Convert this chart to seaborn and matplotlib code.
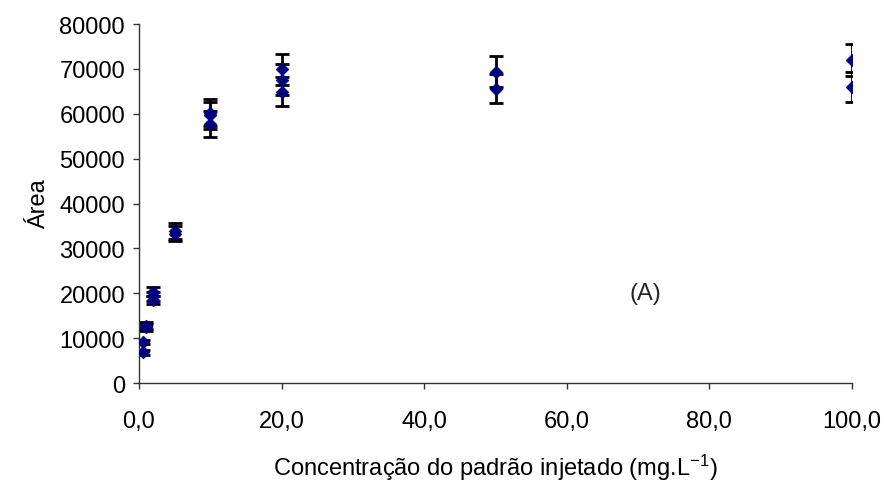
import matplotlib

matplotlib.use("Agg")

import matplotlib.pyplot as plt
import pandas as pd
import seaborn as sns
from matplotlib.ticker import FuncFormatter, MultipleLocator

# replicate injections per standard concentration (mg/L)
conc = [0.5, 0.5, 1, 1, 2, 2, 2, 5, 5, 10, 10, 10, 20, 20, 20, 50, 50, 100, 100]
area = [9200, 6840, 12800, 12400, 20330, 19300, 18480, 33900, 33300,
        60300, 59700, 57800, 69900, 67550, 64970, 69420, 65630, 72000, 66000]
err = [500, 500, 700, 700, 1000, 1000, 900, 1700, 1700,
       3100, 3000, 2900, 3500, 3450, 3300, 3500, 3300, 3500, 3400]

df = pd.DataFrame({"conc": conc, "area": area, "err": err})

sns.set_theme(style="ticks")
plt.rcParams["font.family"] = ["Liberation Sans", "DejaVu Sans"]
plt.rcParams["mathtext.default"] = "regular"

fig = plt.figure(figsize=(8.88, 4.85), dpi=100)
ax = fig.add_axes([0.1565, 0.2082, 0.803, 0.740])

ax.errorbar(df["conc"], df["area"], yerr=df["err"], fmt="none",
            ecolor="black", elinewidth=2, capsize=5, capthick=2, zorder=2)
sns.scatterplot(data=df, x="conc", y="area", marker="D", s=42,
                color="#000080", edgecolor="#000080", linewidth=0.5, ax=ax, zorder=3)

ax.set_xlim(0, 100)
ax.set_ylim(0, 80000)
ax.xaxis.set_major_locator(MultipleLocator(20))
ax.yaxis.set_major_locator(MultipleLocator(10000))
ax.xaxis.set_major_formatter(FuncFormatter(lambda v, p: f"{v:.1f}".replace(".", ",")))
ax.yaxis.set_major_formatter(FuncFormatter(lambda v, p: f"{v:.0f}"))

ax.tick_params(axis="both", labelsize=17, length=4.5, width=1, color="#333333", labelcolor="black")
ax.tick_params(axis="y", pad=5.5)
ax.tick_params(axis="x", pad=15)
for side in ("top", "right"):
    ax.spines[side].set_visible(False)
for side in ("left", "bottom"):
    ax.spines[side].set_color("#333333")
    ax.spines[side].set_linewidth(1)
ax.spines["bottom"].set_bounds(0, 100)

ax.set_xlabel("Concentração do padrão injetado (mg.L$^{-1}$)", fontsize=17, labelpad=14, color="black")
ax.set_ylabel("Área", fontsize=17, labelpad=7, color="black")
ax.text(71, 20000, "(A)", fontsize=17, ha="center", va="center")

fig.savefig("out.png", dpi=100)
plt.close(fig)
